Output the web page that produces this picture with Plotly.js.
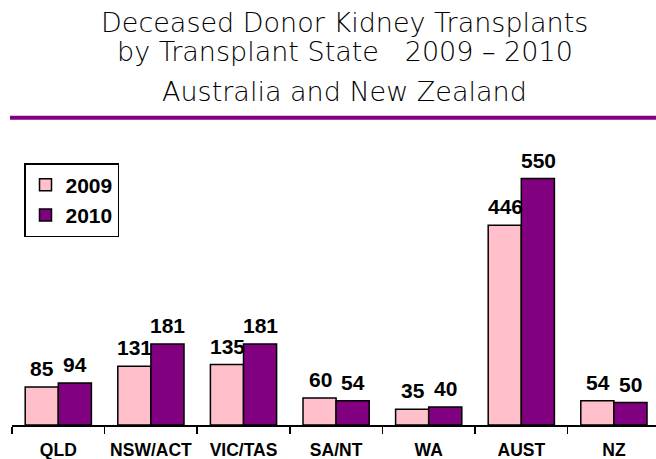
<!DOCTYPE html>
<html>
<head>
<meta charset="utf-8">
<script src="https://cdn.plot.ly/plotly-3.0.1.min.js"></script>
<style>
  html, body { margin: 0; padding: 0; background: #ffffff; }
  #chart { width: 656px; height: 459px; }
</style>
</head>
<body>
<div id="chart"></div>
<script>
// ---- Data ----
const categories = ["QLD", "NSW/ACT", "VIC/TAS", "SA/NT", "WA", "AUST", "NZ"];
const values2009 = [85, 131, 135, 60, 35, 446, 54];
const values2010 = [94, 181, 181, 54, 40, 550, 50];
const seriesNames = ["2009", "2010"];
const titleLines = [
  "Deceased Donor Kidney Transplants",
  "by Transplant State \u00A0\u00A02009 \u2013 2010",
  "Australia and New Zealand"
];

// ---- Layout helpers (pixel geometry of the frame) ----
const W = 656, H = 459;
const M = { l: 12, r: 0, t: 125, b: 34 };
const plotH = H - M.t - M.b;            // 300
const plotW = W - M.l - M.r;            // 644
const baseY = H - M.b;                  // 425
const py = p => (baseY - p) / plotH;    // pixel y -> paper y
const px = p => (p - M.l) / plotW;      // pixel x -> paper x

const pink = "#FFC0CB";
const purple = "#800080";

const traces = [
  {
    type: "bar",
    name: seriesNames[0],
    x: categories,
    y: values2009,
    marker: { color: pink, line: { color: "#000000", width: 1.5 } },
    hoverinfo: "none"
  },
  {
    type: "bar",
    name: seriesNames[1],
    x: categories,
    y: values2010,
    marker: { color: purple, line: { color: "#000000", width: 1.5 } },
    hoverinfo: "none"
  }
];

const annotations = [];
// value labels above bars
const series = [values2009, values2010];
series.forEach((vals, si) => {
  vals.forEach((v, i) => {
    annotations.push({
      x: categories[i],
      y: v,
      xref: "x",
      yref: "y",
      text: String(v),
      showarrow: false,
      xanchor: "center",
      yanchor: "bottom",
      xshift: si === 0 ? -16 : 17,
      yshift: 5,
      font: { family: "Liberation Sans, Arial, sans-serif", size: 21, color: "#000000", weight: "bold" }
    });
  });
});
// title lines
const titleY = [22, 51, 91];
titleLines.forEach((t, i) => {
  annotations.push({
    x: px(345),
    y: py(titleY[i]),
    xref: "paper",
    yref: "paper",
    text: t,
    showarrow: false,
    xanchor: "center",
    yanchor: "middle",
    font: { family: "DejaVu Sans, sans-serif", size: 27, color: "#000000", weight: 300 }
  });
});

const layout = {
  width: W,
  height: H,
  margin: M,
  paper_bgcolor: "#ffffff",
  plot_bgcolor: "#ffffff",
  barmode: "group",
  bargap: 0.285,
  bargroupgap: 0,
  showlegend: true,
  legend: {
    x: px(24),
    y: py(163),
    xanchor: "left",
    yanchor: "top",
    bordercolor: "#000000",
    borderwidth: 1.5,
    bgcolor: "#ffffff",
    font: { family: "Liberation Sans, Arial, sans-serif", size: 21, color: "#000000", weight: "bold" },
    traceorder: "normal"
  },
  xaxis: {
    type: "category",
    range: [-0.5, -0.5 + plotW / 92.6],
    autorange: false,
    showline: true,
    linecolor: "#000000",
    linewidth: 1.5,
    ticks: "outside",
    tickson: "boundaries",
    ticklen: 7,
    tickwidth: 1.5,
    tickcolor: "#000000",
    ticklabelstandoff: 8,
    tickfont: { family: "Liberation Sans, Arial, sans-serif", size: 17.5, color: "#000000", weight: "bold" },
    showgrid: false,
    zeroline: false,
    fixedrange: true
  },
  yaxis: {
    range: [0, plotH / 0.448],
    autorange: false,
    visible: false,
    showgrid: false,
    zeroline: false,
    fixedrange: true
  },
  shapes: [
    {
      type: "line",
      xref: "paper",
      yref: "paper",
      x0: px(10),
      x1: px(656),
      y0: py(117.7),
      y1: py(117.7),
      line: { color: purple, width: 4 }
    }
  ],
  annotations: annotations
};

Plotly.newPlot("chart", traces, layout, { displayModeBar: false, staticPlot: true });
</script>
</body>
</html>
